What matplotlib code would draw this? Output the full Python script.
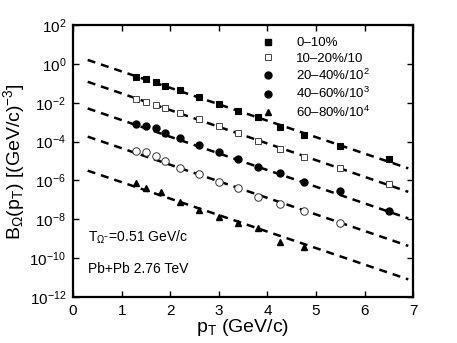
import matplotlib
matplotlib.use("Agg")
import matplotlib.pyplot as plt
from matplotlib.lines import Line2D
import numpy as np

plt.rcParams['font.family'] = ['Liberation Sans', 'DejaVu Sans']
plt.rcParams['mathtext.fontset'] = 'custom'
plt.rcParams['mathtext.rm'] = 'Liberation Sans'
plt.rcParams['mathtext.it'] = 'Liberation Sans'
plt.rcParams['mathtext.bf'] = 'Liberation Sans'

# ---- data ----
pt_full = [1.3, 1.5, 1.7, 1.9, 2.2, 2.6, 3.0, 3.4, 3.8, 4.25, 4.75, 5.5, 6.5]
b_0_10 = [2.2e-1, 1.62e-1, 1.2e-1, 7.6e-2, 4.5e-2, 1.9e-2, 8.3e-3, 3.7e-3,
          1.78e-3, 5.9e-4, 2.3e-4, 5.9e-5, 1.23e-5]
b_10_20 = [1.5e-2, 1.12e-2, 7.6e-3, 5.1e-3, 2.8e-3, 1.38e-3, 6.6e-4, 2.7e-4,
           1.12e-4, 4.2e-5, 1.55e-5, 4.6e-6, 6.3e-7]
b_20_40 = [7.8e-4, 6.3e-4, 5.2e-4, 2.9e-4, 1.58e-4, 6.6e-5, 3.0e-5, 1.23e-5,
           5.1e-6, 2.5e-6, 8.5e-7, 2.9e-7, 2.7e-8]
pt_40_60 = [1.3, 1.5, 1.7, 1.9, 2.2, 2.6, 3.0, 3.4, 3.8, 4.25, 4.75, 5.5]
b_40_60 = [3.3e-5, 2.8e-5, 1.86e-5, 1.0e-5, 4.6e-6, 2.1e-6, 7.9e-7, 3.9e-7,
           1.45e-7, 5.9e-8, 2.7e-8, 6.2e-9]
pt_60_80 = [1.3, 1.5, 1.8, 2.2, 2.6, 3.0, 3.4, 3.8, 4.25, 4.75]
b_60_80 = [7.1e-7, 4.3e-7, 2.45e-7, 8.1e-8, 3.0e-8, 1.35e-8, 6.2e-9, 3.5e-9,
           7.1e-10, 3.9e-10]

# model (dashed) lines: end points
line_pt = [0.3, 6.9]
line_0_10 = [1.6e0, 4.2e-6]
line_10_20 = [1.2e-1, 2.6e-7]
line_20_40 = [5.1e-3, 1.12e-8]
line_40_60 = [1.8e-4, 4.3e-10]
line_60_80 = [3.2e-6, 8.1e-12]

labels = ['0\u201310%', '10\u201320%/10', '20\u201340%/10$^2$',
          '40\u201360%/10$^3$', '60\u201380%/10$^4$']

fig = plt.figure(figsize=(4.57, 3.43), dpi=100)
ax = fig.add_axes([0.160, 0.134, 0.744, 0.793])

dash = dict(color='black', ls=(0, (3.2, 2.4)), lw=1.8)
for ly in [line_0_10, line_10_20, line_20_40, line_40_60, line_60_80]:
    ax.plot(line_pt, ly, **dash)

ax.plot(pt_full, b_0_10, 's', color='black', ms=4, mew=0.8)
ax.plot(pt_full, b_10_20, 's', mfc='white', mec='#444444', ms=4.2, mew=0.7)
ax.plot(pt_full, b_20_40, 'o', color='black', ms=5)
ax.plot(pt_40_60, b_40_60, 'o', mfc='white', mec='#333333', ms=5.4, mew=0.7)
ax.plot(pt_60_80, b_60_80, '^', color='black', ms=5)

handles = [
    Line2D([], [], ls='none', marker='s', color='black', ms=4),
    Line2D([], [], ls='none', marker='s', mfc='white', mec='#444444', ms=4.2, mew=0.7),
    Line2D([], [], ls='none', marker='o', color='black', ms=5),
    Line2D([], [], ls='none', marker='o', color='black', ms=5),
    Line2D([], [], ls='none', marker='^', color='black', ms=5),
]
ax.legend(handles, labels, loc='upper left', bbox_to_anchor=(0.52, 1.0),
          frameon=False, fontsize=9.5, handlelength=1.0, handletextpad=1.6,
          labelspacing=0.24, borderaxespad=0.5)

ax.set_yscale('log')
ax.set_xlim(0, 7)
ax.set_ylim(1e-12, 1e2)
ax.set_yticks([10.0**k for k in range(-12, 3, 2)])
ax.set_yticklabels(['$10^{%d}$' % k for k in range(-12, 3, 2)])
ax.yaxis.set_minor_locator(matplotlib.ticker.NullLocator())
ax.set_xticks(range(0, 8))
ax.tick_params(direction='in', top=True, right=True, length=4, width=1.0,
               labelsize=11, pad=5)
for s in ax.spines.values():
    s.set_linewidth(1.6)

ax.set_xlabel('p$_{\\mathregular{T}}$ (GeV/c)', fontsize=14, labelpad=-1)
ax.set_ylabel('B$_{\\Omega}$(p$_{\\mathregular{T}}$) [(GeV/c)$^{-3}$]', fontsize=14, labelpad=2)

ax.text(0.3, 1.2e-9, 'T$_{\\Omega^{-}}$=0.51 GeV/c', fontsize=10, va='center')
ax.text(0.3, 2.7e-11, 'Pb+Pb 2.76 TeV', fontsize=10, va='center')

fig.savefig('out.png', dpi=100)
